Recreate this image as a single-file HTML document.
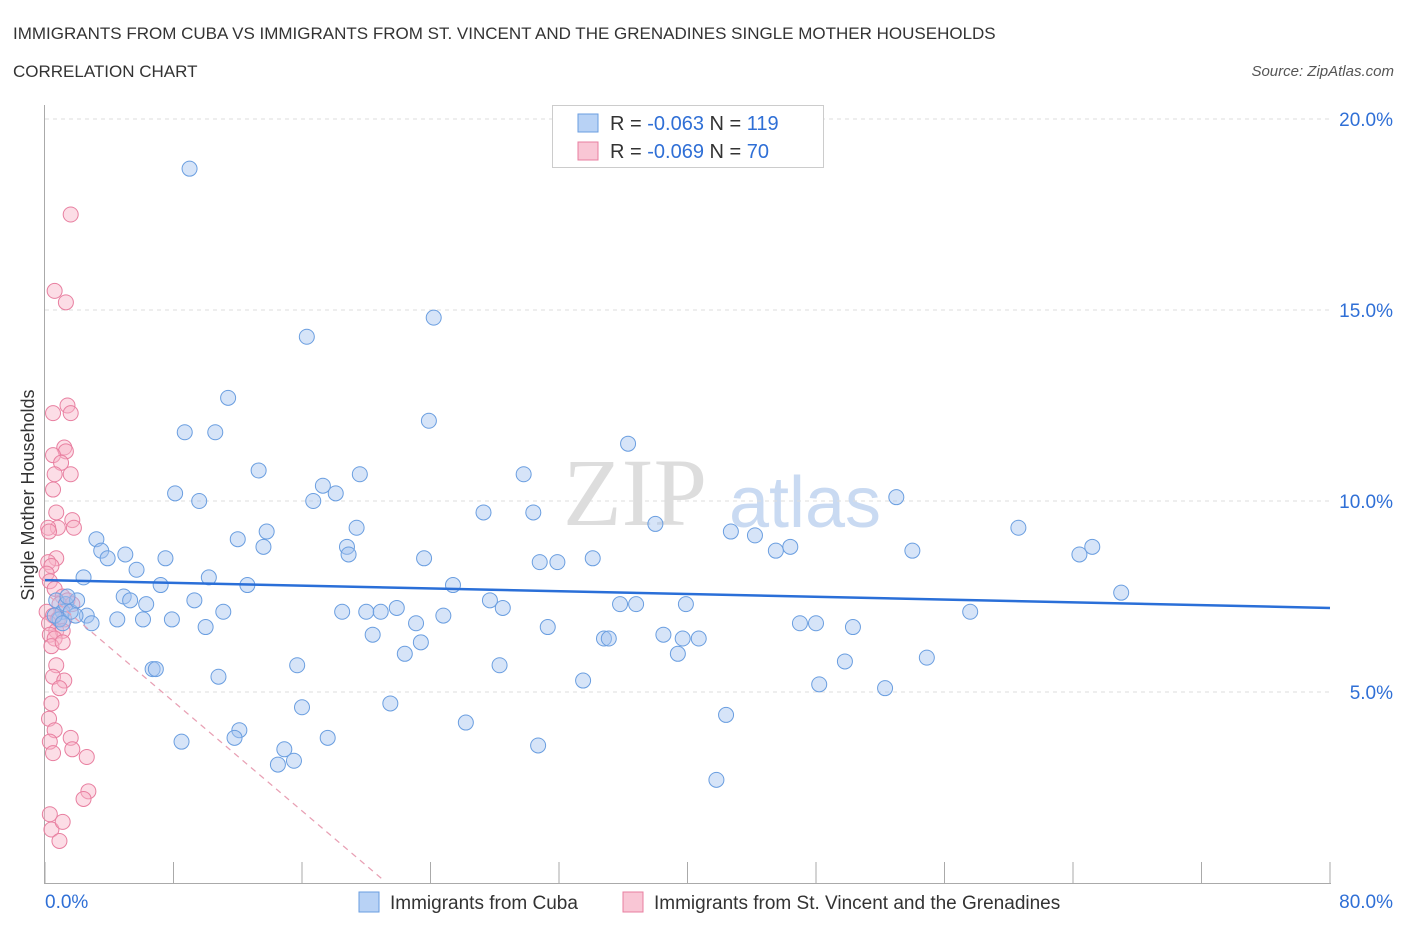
<!DOCTYPE html>
<html><head><meta charset="utf-8"><style>
body{margin:0;background:#fff;font-family:"Liberation Sans",sans-serif;}
svg{display:block}
</style></head><body>
<svg id="chart" width="1406" height="930">
<text x="13" y="39" font-size="17" fill="#333">IMMIGRANTS FROM CUBA VS IMMIGRANTS FROM ST. VINCENT AND THE GRENADINES SINGLE MOTHER HOUSEHOLDS</text>
<text x="13" y="77" font-size="17" fill="#333">CORRELATION CHART</text>
<text x="1394" y="76" font-size="15" fill="#555" font-style="italic" text-anchor="end">Source: ZipAtlas.com</text>
<text x="635" y="525" font-size="96" fill="#ddd" font-family="Liberation Serif, serif" text-anchor="middle">ZIP</text>
<text x="805" y="527" font-size="72" fill="#c9daf2" text-anchor="middle">atlas</text>
<text transform="translate(34,495) rotate(-90)" font-size="18" fill="#333" text-anchor="middle">Single Mother Households</text>
<g id="grid"></g><g id="axes"></g><g id="marks"></g>
<g>
<rect x="552.5" y="105.5" width="271" height="62" fill="#fff" stroke="#ccc"/>
<rect x="578" y="114" width="20" height="18" fill="#b8d2f5" stroke="#6a9ee0"/>
<rect x="578" y="142" width="20" height="18" fill="#f9c6d5" stroke="#e87fa0"/>
<text x="610" y="130" font-size="20" fill="#333">R = <tspan fill="#2f6fd6">-0.063</tspan>   N = <tspan fill="#2f6fd6">119</tspan></text>
<text x="610" y="158" font-size="20" fill="#333">R = <tspan fill="#2f6fd6">-0.069</tspan>   N = <tspan fill="#2f6fd6"> 70</tspan></text>
</g>
<g>
<rect x="359" y="892" width="20" height="20" fill="#b8d2f5" stroke="#6a9ee0"/>
<text x="390" y="909" font-size="19" fill="#333">Immigrants from Cuba</text>
<rect x="623" y="892" width="20" height="20" fill="#f9c6d5" stroke="#e87fa0"/>
<text x="654" y="909" font-size="19" fill="#333">Immigrants from St. Vincent and the Grenadines</text>
</g>
</svg>
<script>
const yTicks=[5,10,15,20];
const yTickLabels=["5.0%","10.0%","15.0%","20.0%"];
const xTicks=[0,8,16,24,32,40,48,56,64,72,80];
const cubaX=[9.0,24.2,16.3,11.4,23.9,8.7,10.6,36.3,13.3,29.8,19.6,17.3,18.1,16.7,8.1,9.6,53.0,27.3,30.4,38.0,42.7,19.4,13.8,60.6,12.0,3.2,44.2,18.8,46.4,13.6,3.5,5.0,18.9,45.5,54.0,64.4,65.2,7.5,3.9,30.8,31.9,34.1,23.6,5.7,2.4,10.2,7.2,12.6,25.4,67.0,4.9,9.3,5.3,27.7,6.3,28.5,35.8,36.8,39.9,21.9,20.0,20.9,11.1,18.5,24.8,57.6,2.6,7.9,2.9,4.5,6.1,47.0,48.0,50.3,31.3,23.1,10.0,20.4,38.5,39.7,40.7,34.8,35.1,23.4,22.4,39.4,49.8,54.9,6.7,6.9,15.7,28.3,10.8,33.5,48.2,52.3,21.5,16.0,42.4,26.2,12.1,17.6,11.8,8.5,30.7,14.9,15.5,14.5,41.8,0.7,1.1,0.9,1.3,1.9,1.6,0.6,1.1,2.0,1.4];
const cubaY=[18.7,14.8,14.3,12.7,12.1,11.8,11.8,11.5,10.8,10.7,10.7,10.4,10.2,10.0,10.2,10.0,10.1,9.7,9.7,9.4,9.2,9.3,9.2,9.3,9.0,9.0,9.1,8.8,8.8,8.8,8.7,8.6,8.6,8.7,8.7,8.6,8.8,8.5,8.5,8.4,8.4,8.5,8.5,8.2,8.0,8.0,7.8,7.8,7.8,7.6,7.5,7.4,7.4,7.4,7.3,7.2,7.3,7.3,7.3,7.2,7.1,7.1,7.1,7.1,7.0,7.1,7.0,6.9,6.8,6.9,6.9,6.8,6.8,6.7,6.7,6.8,6.7,6.5,6.5,6.4,6.4,6.4,6.4,6.3,6.0,6.0,5.8,5.9,5.6,5.6,5.7,5.7,5.4,5.3,5.2,5.1,4.7,4.6,4.4,4.2,4.0,3.8,3.8,3.7,3.6,3.5,3.2,3.1,2.7,7.4,7.1,6.9,7.3,7.0,7.1,7.0,6.8,7.4,7.5];
const vinX=[1.6,0.6,1.3,1.4,0.5,1.6,1.2,1.3,0.5,1.0,1.6,0.6,0.5,0.7,1.7,0.8,0.2,1.8,0.25,0.7,0.2,0.4,0.1,0.3,0.6,1.1,1.4,0.9,1.7,0.1,0.5,0.8,1.2,0.25,0.7,1.1,0.3,0.6,0.4,1.1,0.7,0.5,1.2,0.9,0.4,0.25,0.6,1.6,0.3,1.7,2.6,0.5,2.7,2.4,0.3,0.4,1.1,0.9];
const vinY=[17.5,15.5,15.2,12.5,12.3,12.3,11.4,11.3,11.2,11.0,10.7,10.7,10.3,9.7,9.5,9.3,9.3,9.3,9.2,8.5,8.4,8.3,8.1,7.9,7.7,7.5,7.4,7.3,7.3,7.1,7.0,6.9,6.9,6.8,6.6,6.6,6.5,6.4,6.2,6.3,5.7,5.4,5.3,5.1,4.7,4.3,4.0,3.8,3.7,3.5,3.3,3.4,2.4,2.2,1.8,1.4,1.6,1.1];
const cubaTrendX=[0,80];
const cubaTrendY=[7.93,7.2];
const vinTrendX=[0.3,21.0];
const vinTrendY=[7.5,0.1];
const X=v=>45+v*(1285/80);
const Y=v=>883-v*38.2;
const NS="http://www.w3.org/2000/svg";
function mk(tag,attrs,parent){const e=document.createElementNS(NS,tag);for(const k in attrs)e.setAttribute(k,attrs[k]);parent.appendChild(e);return e;}
const grid=document.getElementById('grid'),axes=document.getElementById('axes'),marks=document.getElementById('marks');
yTicks.forEach((t,i)=>{
 const l=mk('line',{x1:45,x2:1330,y1:Y(t),y2:Y(t),stroke:'#ddd','stroke-dasharray':'4,4'},grid);
 
 
 const tx=mk('text',{x:1393,y:Y(t)+7,'font-size':19,fill:'#2f6fd6','text-anchor':'end'},axes);
 tx.textContent=yTickLabels[i];
 
 
});
const tl=mk('line',{x1:45,x2:1330,y1:Y(20),y2:Y(20),stroke:'#ddd','stroke-dasharray':'4,4'},grid);
const ya=mk('line',{x1:44.5,x2:44.5,y1:105,y2:883,stroke:'#aaa'},axes);


const xa=mk('line',{x1:44,x2:1331,y1:883.5,y2:883.5,stroke:'#aaa'},axes);


xTicks.forEach(t=>{
 const l=mk('line',{x1:X(t),x2:X(t),y1:862,y2:883,stroke:'#aaa'},axes);
 
 
});
const xl0=mk('text',{x:45,y:908,'font-size':19,fill:'#2f6fd6'},axes);xl0.textContent='0.0%';


const xl1=mk('text',{x:1393,y:908,'font-size':19,fill:'#2f6fd6','text-anchor':'end'},axes);xl1.textContent='80.0%';


vinX.forEach((v,i)=>{
 const c=mk('circle',{cx:X(v),cy:Y(vinY[i]),r:7.5,fill:'rgba(248,180,200,0.45)',stroke:'#e87fa0','stroke-width':1},marks);
 
 
});
cubaX.forEach((v,i)=>{
 const c=mk('circle',{cx:X(v),cy:Y(cubaY[i]),r:7.5,fill:'rgba(164,196,240,0.45)',stroke:'#6a9ee0','stroke-width':1},marks);
 
 
});
const bt=mk('line',{x1:X(cubaTrendX[0]),y1:Y(cubaTrendY[0]),x2:X(cubaTrendX[1]),y2:Y(cubaTrendY[1]),stroke:'#2a6fd8','stroke-width':2.5},marks);


const pt=mk('line',{x1:X(vinTrendX[0]),y1:Y(vinTrendY[0]),x2:X(vinTrendX[1]),y2:Y(vinTrendY[1]),stroke:'#e8a0b4','stroke-width':1.2,'stroke-dasharray':'6,5'},marks);


</script>
</body></html>
